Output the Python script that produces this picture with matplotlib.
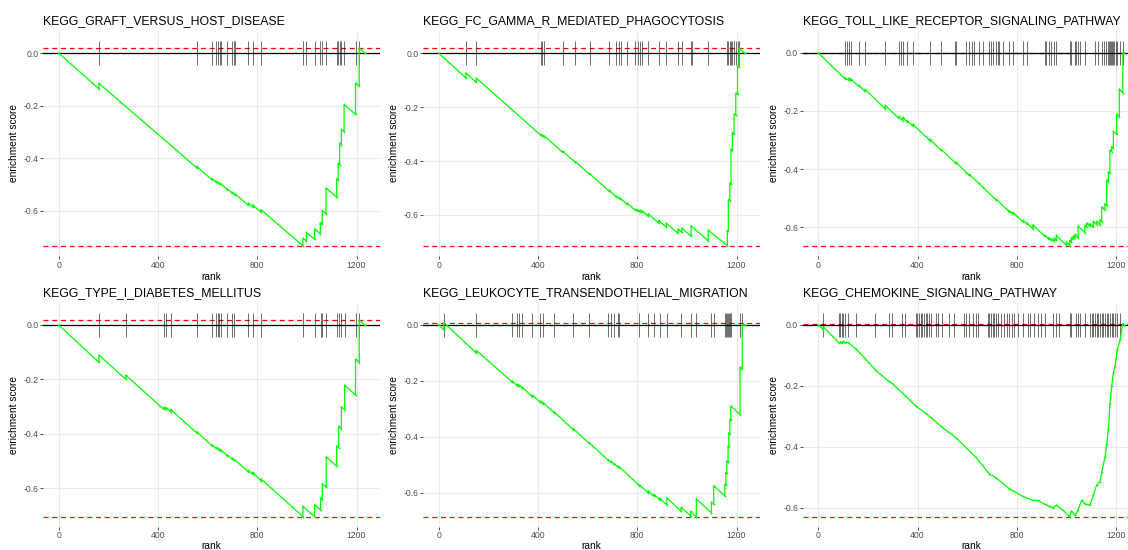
import matplotlib
matplotlib.use("Agg")
import matplotlib.pyplot as plt

plt.rcParams['font.family'] = ['Liberation Sans', 'DejaVu Sans']

# pathway titles
titles = [
    "KEGG_GRAFT_VERSUS_HOST_DISEASE",
    "KEGG_FC_GAMMA_R_MEDIATED_PHAGOCYTOSIS",
    "KEGG_TOLL_LIKE_RECEPTOR_SIGNALING_PATHWAY",
    "KEGG_TYPE_I_DIABETES_MELLITUS",
    "KEGG_LEUKOCYTE_TRANSENDOTHELIAL_MIGRATION",
    "KEGG_CHEMOKINE_SIGNALING_PATHWAY",
]

# gene-set hit ranks
gvhd_hits = [162, 556, 618, 633, 641, 649, 653, 680, 699, 705, 711, 764, 782, 815, 984, 998,
             1031, 1054, 1062, 1077, 1120, 1126, 1132, 1139, 1150, 1196, 1211]
fcgr_hits = [110, 152, 412, 417, 425, 500, 551, 608, 686, 716, 726, 734, 760, 791, 802, 812,
             821, 845, 886, 917, 964, 979, 1017, 1021, 1086, 1163, 1167, 1173, 1178, 1183,
             1190, 1197, 1204, 1210]
toll_hits = [108, 115, 122, 131, 162, 189, 270, 324, 332, 340, 358, 381, 449, 496, 551, 554,
             597, 608, 619, 628, 646, 662, 686, 696, 705, 716, 723, 727, 743, 770, 784, 824,
             840, 912, 919, 929, 939, 950, 959, 1013, 1020, 1034, 1040, 1047, 1054, 1074, 1115,
             1128, 1142, 1151, 1159, 1169, 1173, 1175, 1179, 1183, 1189, 1193, 1200, 1205,
             1216, 1229]
t1d_hits = [162, 270, 424, 433, 451, 556, 618, 633, 640, 646, 653, 680, 700, 707, 764, 782,
            815, 984, 1031, 1055, 1062, 1078, 1120, 1128, 1139, 1152, 1196, 1211]
leuko_hits = [21, 151, 296, 316, 324, 336, 377, 410, 420, 464, 543, 606, 684, 694, 707, 721,
              728, 809, 843, 867, 890, 919, 977, 1015, 1038, 1099, 1108, 1153, 1157, 1161,
              1166, 1169, 1173, 1177, 1214, 1223]
chemo_hits = [20, 84, 89, 95, 101, 108, 119, 153, 230, 284, 297, 338, 351, 392, 399, 405, 412,
              419, 426, 432, 439, 446, 453, 473, 484, 500, 527, 547, 588, 597, 608, 622, 635,
              642, 682, 689, 696, 703, 709, 716, 723, 736, 750, 759, 770, 781, 790, 804, 824,
              844, 854, 871, 885, 898, 912, 946, 959, 970, 1013, 1020, 1040, 1047, 1056, 1074,
              1094, 1101, 1108, 1115, 1121, 1128, 1135, 1142, 1148, 1155, 1162, 1169, 1175,
              1182, 1189, 1196, 1202, 1216]

# running enrichment score, (rank, score) vertices
gvhd_curve = [(0, 0), (162, -0.136), (162, -0.115), (556, -0.436), (556, -0.431), (618, -0.482),
              (618, -0.478), (633, -0.490), (633, -0.487), (641, -0.494), (641, -0.492),
              (649, -0.498), (649, -0.496), (653, -0.499), (653, -0.497), (680, -0.519),
              (680, -0.517), (699, -0.532), (699, -0.530), (705, -0.535), (705, -0.533),
              (711, -0.538), (711, -0.536), (764, -0.579), (764, -0.570), (782, -0.585),
              (782, -0.578), (815, -0.605), (815, -0.596), (984, -0.733), (984, -0.704),
              (998, -0.715), (998, -0.682), (1031, -0.709), (1031, -0.669), (1054, -0.688),
              (1054, -0.645), (1062, -0.652), (1062, -0.599), (1077, -0.611), (1077, -0.513),
              (1120, -0.548), (1120, -0.478), (1126, -0.483), (1126, -0.420), (1132, -0.425),
              (1132, -0.342), (1139, -0.348), (1139, -0.290), (1150, -0.299), (1150, -0.195),
              (1196, -0.233), (1196, -0.115), (1211, -0.127), (1211, 0.019), (1233, 0.0)]
fcgr_curve = [(0, 0), (110, -0.093), (110, -0.074), (152, -0.109), (152, -0.093), (412, -0.305),
              (412, -0.302), (417, -0.306), (417, -0.303), (425, -0.310), (425, -0.307),
              (500, -0.368), (500, -0.364), (551, -0.405), (551, -0.402), (608, -0.449),
              (608, -0.447), (686, -0.511), (686, -0.508), (716, -0.533), (716, -0.530),
              (726, -0.538), (726, -0.536), (734, -0.542), (734, -0.540), (760, -0.561),
              (760, -0.557), (791, -0.582), (791, -0.578), (802, -0.587), (802, -0.580),
              (812, -0.588), (812, -0.583), (821, -0.590), (821, -0.585), (845, -0.605),
              (845, -0.596), (886, -0.630), (886, -0.620), (917, -0.645), (917, -0.630),
              (964, -0.668), (964, -0.652), (979, -0.664), (979, -0.648), (1017, -0.679),
              (1017, -0.640), (1086, -0.696), (1086, -0.656), (1163, -0.714), (1163, -0.658),
              (1167, -0.661), (1167, -0.543), (1173, -0.548), (1173, -0.481), (1178, -0.485),
              (1178, -0.357), (1183, -0.361), (1183, -0.295), (1190, -0.300), (1190, -0.226),
              (1197, -0.230), (1197, -0.149), (1204, -0.153), (1204, -0.047), (1210, -0.050),
              (1210, 0.017), (1233, 0.0)]
toll_curve = [(0, 0), (108, -0.090), (108, -0.086), (122, -0.095), (122, -0.087), (131, -0.094),
              (131, -0.090), (162, -0.115), (162, -0.111), (189, -0.133), (189, -0.126),
              (270, -0.193), (270, -0.181), (324, -0.226), (324, -0.219), (340, -0.233),
              (340, -0.222), (358, -0.237), (358, -0.233), (381, -0.252), (381, -0.246),
              (449, -0.302), (449, -0.297), (496, -0.336), (496, -0.333), (551, -0.378),
              (554, -0.380), (554, -0.376), (597, -0.412), (608, -0.421), (608, -0.418),
              (646, -0.449), (662, -0.462), (716, -0.506), (716, -0.503), (770, -0.547),
              (770, -0.543), (784, -0.554), (784, -0.549), (824, -0.582), (824, -0.576),
              (840, -0.589), (840, -0.585), (865, -0.606), (865, -0.592), (912, -0.632),
              (912, -0.627), (929, -0.641), (929, -0.636), (939, -0.645), (939, -0.640),
              (950, -0.649), (950, -0.637), (959, -0.645), (959, -0.628), (1000, -0.663),
              (1000, -0.650), (1013, -0.664), (1013, -0.645), (1020, -0.651), (1020, -0.636),
              (1027, -0.642), (1027, -0.630), (1034, -0.636), (1034, -0.625), (1047, -0.636),
              (1047, -0.596), (1074, -0.619), (1074, -0.594), (1081, -0.600), (1081, -0.586),
              (1094, -0.597), (1094, -0.588), (1108, -0.600), (1108, -0.580), (1121, -0.591),
              (1121, -0.580), (1135, -0.592), (1135, -0.575), (1142, -0.581), (1142, -0.530),
              (1155, -0.541), (1155, -0.519), (1162, -0.525), (1162, -0.438), (1169, -0.444),
              (1169, -0.410), (1175, -0.415), (1175, -0.334), (1182, -0.340), (1182, -0.323),
              (1189, -0.329), (1189, -0.270), (1202, -0.281), (1202, -0.212), (1213, -0.222),
              (1213, -0.125), (1227, -0.137), (1227, 0.0), (1233, 0.0)]
t1d_curve = [(0, 0), (162, -0.137), (162, -0.110), (270, -0.199), (270, -0.184), (424, -0.310),
             (424, -0.302), (433, -0.309), (433, -0.303), (451, -0.318), (451, -0.310),
             (556, -0.396), (556, -0.392), (618, -0.443), (618, -0.440), (633, -0.452),
             (633, -0.449), (640, -0.455), (640, -0.452), (646, -0.457), (646, -0.455),
             (653, -0.461), (653, -0.458), (680, -0.480), (680, -0.477), (700, -0.493),
             (700, -0.490), (707, -0.496), (707, -0.493), (764, -0.539), (764, -0.533),
             (782, -0.548), (782, -0.540), (815, -0.572), (815, -0.565), (984, -0.703),
             (984, -0.666), (1031, -0.704), (1031, -0.659), (1055, -0.679), (1055, -0.635),
             (1062, -0.641), (1062, -0.583), (1078, -0.596), (1078, -0.484), (1120, -0.518),
             (1120, -0.443), (1128, -0.450), (1128, -0.372), (1139, -0.381), (1139, -0.301),
             (1152, -0.312), (1152, -0.221), (1196, -0.257), (1196, -0.126), (1211, -0.138),
             (1211, 0.018), (1233, 0.0)]
leuko_curve = [(0, 0), (21, -0.018), (21, 0.008), (151, -0.100), (151, -0.091), (296, -0.204),
               (296, -0.200), (316, -0.217), (316, -0.212), (324, -0.219), (324, -0.215),
               (336, -0.225), (336, -0.222), (377, -0.256), (377, -0.250), (410, -0.277),
               (410, -0.272), (420, -0.281), (420, -0.277), (464, -0.313), (464, -0.310),
               (543, -0.375), (543, -0.371), (606, -0.423), (606, -0.420), (684, -0.484),
               (684, -0.481), (694, -0.490), (694, -0.487), (707, -0.498), (707, -0.495),
               (721, -0.507), (721, -0.504), (728, -0.510), (728, -0.507), (809, -0.574),
               (809, -0.571), (843, -0.599), (843, -0.592), (867, -0.612), (867, -0.605),
               (890, -0.625), (890, -0.618), (919, -0.642), (919, -0.617), (977, -0.665),
               (977, -0.651), (1015, -0.682), (1015, -0.666), (1038, -0.685), (1038, -0.621),
               (1099, -0.671), (1099, -0.633), (1108, -0.640), (1108, -0.574), (1153, -0.611),
               (1153, -0.568), (1157, -0.571), (1157, -0.527), (1161, -0.530), (1161, -0.485),
               (1166, -0.489), (1166, -0.432), (1169, -0.435), (1169, -0.385), (1173, -0.388),
               (1173, -0.337), (1177, -0.340), (1177, -0.290), (1214, -0.320), (1214, -0.151),
               (1223, -0.158), (1223, 0.0), (1233, 0.0)]
chemo_curve = [(0, 0), (20, -0.016), (20, -0.006), (84, -0.060), (89, -0.055), (95, -0.060),
               (101, -0.054), (108, -0.059), (119, -0.058), (153, -0.080), (230, -0.148),
               (284, -0.186), (297, -0.192), (351, -0.233), (392, -0.266), (432, -0.290),
               (453, -0.304), (500, -0.337), (554, -0.370), (635, -0.435), (689, -0.489),
               (716, -0.502), (770, -0.538), (824, -0.563), (865, -0.576), (885, -0.576),
               (912, -0.589), (930, -0.596), (946, -0.600), (959, -0.592), (986, -0.609),
               (1013, -0.630), (1020, -0.611), (1034, -0.625), (1047, -0.607), (1061, -0.576),
               (1074, -0.587), (1094, -0.592), (1108, -0.560), (1121, -0.527), (1135, -0.515),
               (1142, -0.484), (1155, -0.435), (1162, -0.391), (1169, -0.342), (1175, -0.259),
               (1182, -0.202), (1189, -0.158), (1196, -0.135), (1205, -0.082), (1216, -0.049),
               (1227, 0.004), (1233, 0.0)]

all_hits = [gvhd_hits, fcgr_hits, toll_hits, t1d_hits, leuko_hits, chemo_hits]
all_curves = [gvhd_curve, fcgr_curve, toll_curve, t1d_curve, leuko_curve, chemo_curve]

fig = plt.figure(figsize=(11.28, 5.5), dpi=100)
W, H = 1128.0, 550.0
col_left = [43.4, 423.4, 803.0]
row_top = [30.5, 302.5]
row_h = [225.5, 224.5]
aw = 336.6

for i in range(6):
    r, c = divmod(i, 3)
    ah = row_h[r]
    ax = fig.add_axes([col_left[c] / W, 1 - (row_top[r] + ah) / H, aw / W, ah / H])
    xs = [p[0] for p in all_curves[i]]
    ys = [p[1] for p in all_curves[i]]
    top, bottom = max(ys), min(ys)
    diff = (top - bottom) / 8

    ax.grid(True, color='#EBEBEB', lw=0.8)
    ax.set_axisbelow(True)
    ax.axhline(top, color='red', ls=(0, (4, 3)), lw=0.9, zorder=2)
    ax.axhline(bottom, color='red', ls=(0, (4, 3)), lw=0.9, zorder=2)
    ax.axhline(0, color='black', lw=0.9, zorder=3)
    ax.vlines(all_hits[i], -diff / 2, diff / 2, color='black', lw=0.4, zorder=4)
    ax.plot(xs, ys, color='#00FF00', lw=0.9, marker='o', ms=1.3, mew=0, zorder=5)

    ax.margins(0.05)
    for s in ax.spines.values():
        s.set_visible(False)
    ax.set_xticks([0, 400, 800, 1200])
    ax.set_yticks([0, -0.2, -0.4, -0.6])
    ax.set_yticklabels(['0.0', '-0.2', '-0.4', '-0.6'])
    ax.tick_params(length=2, width=0.6, color='#333333', labelcolor='#4D4D4D',
                   labelsize=6.2, pad=1.5)
    ax.tick_params(axis='x', pad=1.2 if r == 1 else 1.5)
    ax.set_xlabel('rank', fontsize=7.3, labelpad=0.3 if r == 1 else 1.5)
    ax.set_ylabel('enrichment score', fontsize=7.3, labelpad=3)
    ax.set_title(titles[i], loc='left', fontsize=8.8, pad=4.5)

fig.savefig('out.png', dpi=100)
